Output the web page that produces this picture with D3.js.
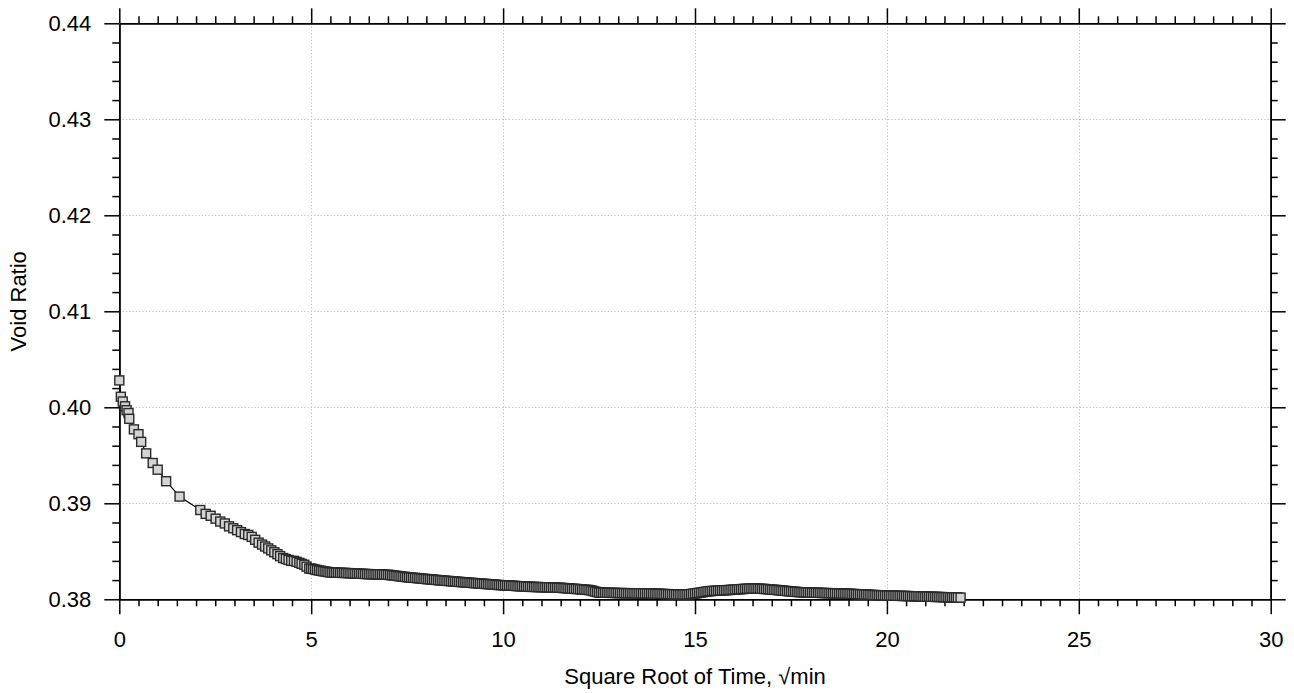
<!DOCTYPE html>
<html><head><meta charset="utf-8">
<script src="https://cdn.jsdelivr.net/npm/d3@7"></script>
<style>
html,body{margin:0;padding:0;background:#fff;}
svg text{font-family:"Liberation Sans",Arial,Helvetica,sans-serif;fill:#000;}
</style></head>
<body><svg id="c" width="1294" height="693"></svg>
<script>
// ---- data ----
const xTicks = [0, 5, 10, 15, 20, 25, 30];
const yTicks = [0.38, 0.39, 0.40, 0.41, 0.42, 0.43, 0.44];
const xTitle = "Square Root of Time, \u221Amin";
const yTitle = "Void Ratio";

const sqrtTimeEarly = [0, 0.04, 0.09, 0.15, 0.19, 0.24, 0.26, 0.38, 0.50, 0.57, 0.70, 0.87, 1.00, 1.22, 1.57];
const voidEarly = [0.4028, 0.4011, 0.4006, 0.4001, 0.3997, 0.3994, 0.3988, 0.3977, 0.3972, 0.3964, 0.3952, 0.3942, 0.3935, 0.3923, 0.3907];

const sqrtTimeMid = [2.11, 2.25, 2.38, 2.51, 2.63, 2.75, 2.86, 2.97, 3.07, 3.17, 3.27, 3.36, 3.45, 3.54, 3.63, 3.72, 3.80, 3.88, 3.96, 4.04, 4.12, 4.19, 4.27, 4.34, 4.41, 4.48, 4.55, 4.62, 4.69, 4.75, 4.82, 4.88, 4.95];
const voidMid = [0.3893, 0.3889, 0.3887, 0.3884, 0.3881, 0.3879, 0.3876, 0.3874, 0.3872, 0.3870, 0.3868, 0.3867, 0.3865, 0.3862, 0.3859, 0.3857, 0.3855, 0.3853, 0.3851, 0.3849, 0.3847, 0.3845, 0.3843, 0.3842, 0.3841, 0.3840, 0.3840, 0.3839, 0.3838, 0.3837, 0.3836, 0.3834, 0.3832];

const sqrtTimeA = [5.00,5.05,5.10,5.15,5.20,5.25,5.30,5.35,5.40,5.45,5.50,5.55,5.60,5.65,5.70,5.75,5.80,5.85,5.90,5.95,6.00,6.05,6.10,6.15,6.20,6.25,6.30,6.35,6.40,6.45,6.50,6.55,6.60,6.65,6.70,6.75,6.80,6.85,6.90,6.95,7.00,7.05,7.10,7.15,7.20,7.25,7.30,7.35,7.40,7.45,7.50,7.55,7.60,7.65,7.70,7.75,7.80,7.85,7.90,7.95,8.00,8.05,8.10,8.15,8.20,8.25,8.30,8.35,8.40,8.45,8.50,8.55,8.60,8.65,8.70,8.75,8.80,8.85,8.90,8.95,9.00,9.05,9.10,9.15,9.20,9.25,9.30,9.35,9.40,9.45,9.50,9.55,9.60,9.65,9.70,9.75,9.80,9.85,9.90,9.95];
const voidA = [0.38320,0.38315,0.38310,0.38305,0.38300,0.38297,0.38293,0.38290,0.38287,0.38283,0.38280,0.38279,0.38278,0.38278,0.38277,0.38276,0.38275,0.38275,0.38274,0.38273,0.38272,0.38271,0.38270,0.38269,0.38268,0.38267,0.38266,0.38265,0.38264,0.38263,0.38262,0.38262,0.38261,0.38261,0.38260,0.38259,0.38259,0.38258,0.38257,0.38256,0.38255,0.38253,0.38250,0.38248,0.38245,0.38243,0.38240,0.38238,0.38235,0.38233,0.38230,0.38228,0.38226,0.38224,0.38223,0.38221,0.38219,0.38217,0.38215,0.38213,0.38211,0.38209,0.38208,0.38206,0.38204,0.38202,0.38200,0.38198,0.38197,0.38195,0.38193,0.38191,0.38190,0.38188,0.38186,0.38185,0.38183,0.38181,0.38180,0.38178,0.38177,0.38175,0.38173,0.38172,0.38170,0.38169,0.38167,0.38166,0.38164,0.38163,0.38161,0.38160,0.38158,0.38157,0.38155,0.38154,0.38152,0.38150,0.38149,0.38147];

const sqrtTimeB = [10.00,10.05,10.10,10.15,10.20,10.25,10.30,10.35,10.40,10.45,10.50,10.55,10.60,10.65,10.70,10.75,10.80,10.85,10.90,10.95,11.00,11.05,11.10,11.15,11.20,11.25,11.30,11.35,11.40,11.45,11.50,11.55,11.60,11.65,11.70,11.75,11.80,11.85,11.90,11.95,12.00,12.05,12.10,12.15,12.20,12.25,12.30,12.35,12.40,12.45,12.50,12.55,12.60,12.65,12.70,12.75,12.80,12.85,12.90,12.95,13.00,13.05,13.10,13.15,13.20,13.25,13.30,13.35,13.40,13.45,13.50,13.55,13.60,13.65,13.70,13.75,13.80,13.85,13.90,13.95,14.00,14.05,14.10,14.15,14.20,14.25,14.30,14.35,14.40,14.45,14.50,14.55,14.60,14.65,14.70,14.75,14.80,14.85,14.90,14.95];
const voidB = [0.38146,0.38145,0.38144,0.38143,0.38142,0.38141,0.38140,0.38138,0.38137,0.38136,0.38135,0.38134,0.38132,0.38131,0.38130,0.38129,0.38129,0.38128,0.38128,0.38127,0.38126,0.38126,0.38125,0.38124,0.38124,0.38123,0.38122,0.38122,0.38121,0.38120,0.38120,0.38118,0.38117,0.38115,0.38114,0.38112,0.38111,0.38109,0.38108,0.38106,0.38105,0.38103,0.38101,0.38099,0.38098,0.38096,0.38092,0.38086,0.38080,0.38075,0.38070,0.38070,0.38069,0.38069,0.38068,0.38068,0.38067,0.38067,0.38066,0.38066,0.38065,0.38065,0.38065,0.38064,0.38064,0.38064,0.38064,0.38063,0.38063,0.38063,0.38063,0.38062,0.38062,0.38062,0.38061,0.38061,0.38060,0.38060,0.38059,0.38059,0.38058,0.38057,0.38057,0.38056,0.38055,0.38054,0.38054,0.38053,0.38052,0.38051,0.38050,0.38050,0.38050,0.38050,0.38050,0.38050,0.38050,0.38052,0.38055,0.38058];

const sqrtTimeC = [15.00,15.05,15.10,15.15,15.20,15.25,15.30,15.35,15.40,15.45,15.50,15.55,15.60,15.65,15.70,15.75,15.80,15.85,15.90,15.95,16.00,16.05,16.10,16.15,16.20,16.25,16.30,16.35,16.40,16.45,16.50,16.55,16.60,16.65,16.70,16.75,16.80,16.85,16.90,16.95,17.00,17.05,17.10,17.15,17.20,17.25,17.30,17.35,17.40,17.45,17.50,17.55,17.60,17.65,17.70,17.75,17.80,17.85,17.90,17.95,18.00,18.05,18.10,18.15,18.20,18.25,18.30,18.35,18.40,18.45,18.50,18.55,18.60,18.65,18.70,18.75,18.80,18.85,18.90,18.95];
const voidC = [0.38061,0.38064,0.38067,0.38070,0.38074,0.38077,0.38080,0.38083,0.38085,0.38087,0.38088,0.38089,0.38091,0.38092,0.38093,0.38094,0.38095,0.38096,0.38097,0.38099,0.38100,0.38101,0.38103,0.38104,0.38106,0.38107,0.38109,0.38110,0.38111,0.38112,0.38112,0.38112,0.38111,0.38111,0.38110,0.38109,0.38108,0.38106,0.38105,0.38103,0.38101,0.38099,0.38098,0.38096,0.38094,0.38092,0.38090,0.38088,0.38086,0.38084,0.38082,0.38080,0.38078,0.38077,0.38075,0.38074,0.38073,0.38072,0.38072,0.38071,0.38070,0.38069,0.38069,0.38068,0.38068,0.38067,0.38066,0.38066,0.38065,0.38065,0.38064,0.38063,0.38063,0.38062,0.38061,0.38061,0.38060,0.38059,0.38059,0.38058];

const sqrtTimeD = [19.00,19.05,19.10,19.15,19.20,19.25,19.30,19.35,19.40,19.45,19.50,19.55,19.60,19.65,19.70,19.75,19.80,19.85,19.90,19.95,20.00,20.05,20.10,20.15,20.20,20.25,20.30,20.35,20.40,20.45,20.50,20.55,20.60,20.65,20.70,20.75,20.80,20.85,20.90,20.95,21.00,21.05,21.10,21.15,21.20,21.25,21.30,21.35,21.40,21.45,21.50,21.55,21.60,21.65,21.70,21.75,21.80,21.85,21.92];
const voidD = [0.38058,0.38057,0.38056,0.38055,0.38054,0.38053,0.38052,0.38051,0.38050,0.38049,0.38048,0.38047,0.38046,0.38045,0.38044,0.38043,0.38042,0.38042,0.38041,0.38040,0.38039,0.38039,0.38038,0.38038,0.38037,0.38037,0.38036,0.38036,0.38035,0.38035,0.38034,0.38034,0.38033,0.38032,0.38032,0.38031,0.38031,0.38030,0.38030,0.38029,0.38028,0.38028,0.38027,0.38026,0.38026,0.38025,0.38025,0.38024,0.38023,0.38023,0.38022,0.38022,0.38021,0.38021,0.38020,0.38020,0.38019,0.38019,0.38018];

// ---- build ----
const sqrtTime = [].concat(sqrtTimeEarly, sqrtTimeMid, sqrtTimeA, sqrtTimeB, sqrtTimeC, sqrtTimeD);
const voidRatio = [].concat(voidEarly, voidMid, voidA, voidB, voidC, voidD);
const data = sqrtTime.map((s, i) => ({s: s, e: voidRatio[i]}));

const L = 119.3, R = 1270.7, T = 23.3, B = 599.3;
const x = d3.scaleLinear().domain([0, 30]).range([L, R]);
const y = d3.scaleLinear().domain([0.38, 0.44]).range([B, T]);

const svg = d3.select("#c");

// grid
const grid = svg.append("g").attr("stroke", "#c4c4c4").attr("stroke-width", 1).attr("stroke-dasharray", "1.3,2");
grid.selectAll("line.v").data(xTicks.slice(1, -1)).join("line")
  .attr("x1", d => Math.round(x(d)) + 0.5).attr("x2", d => Math.round(x(d)) + 0.5)
  .attr("y1", T).attr("y2", B);
grid.selectAll("line.h").data(yTicks.slice(1, -1)).join("line")
  .attr("y1", d => Math.round(y(d)) + 0.5).attr("y2", d => Math.round(y(d)) + 0.5)
  .attr("x1", L).attr("x2", R);

// minor tick values
const xMinor = d3.range(0, 30.001, 0.5).filter(v => Math.abs(v / 5 - Math.round(v / 5)) > 1e-6);
const yMinor = d3.range(0.38, 0.44001, 0.002).filter(v => Math.abs(v / 0.01 - Math.round(v / 0.01)) > 1e-6);

function styleAxis(g) {
  g.select(".domain").attr("stroke", "#000").attr("stroke-width", 1.6);
  g.selectAll(".tick line").attr("stroke", "#000").attr("stroke-width", 1.5);
}

const fmtY = d3.format(".2f");
// bottom
svg.append("g").attr("transform", `translate(0,${B})`)
  .call(d3.axisBottom(x).tickValues(xMinor).tickSize(7).tickSizeOuter(0).tickFormat(""))
  .call(styleAxis);
const gxb = svg.append("g").attr("transform", `translate(0,${B})`)
  .call(d3.axisBottom(x).tickValues(xTicks).tickSize(15).tickSizeOuter(0).tickPadding(17).tickFormat(d3.format("d")))
  .call(styleAxis);
gxb.selectAll("text").attr("font-size", 22).attr("font-family", "Liberation Sans, Arial, sans-serif");
// top
svg.append("g").attr("transform", `translate(0,${T})`)
  .call(d3.axisTop(x).tickValues(xMinor).tickSize(7).tickSizeOuter(0).tickFormat(""))
  .call(styleAxis);
svg.append("g").attr("transform", `translate(0,${T})`)
  .call(d3.axisTop(x).tickValues(xTicks).tickSize(15).tickSizeOuter(0).tickFormat(""))
  .call(styleAxis);
// left
svg.append("g").attr("transform", `translate(${L},0)`)
  .call(d3.axisLeft(y).tickValues(yMinor).tickSize(7).tickSizeOuter(0).tickFormat(""))
  .call(styleAxis);
const gyl = svg.append("g").attr("transform", `translate(${L},0)`)
  .call(d3.axisLeft(y).tickValues(yTicks).tickSize(15).tickSizeOuter(0).tickPadding(13).tickFormat(fmtY))
  .call(styleAxis);
gyl.selectAll("text").attr("font-size", 22).attr("font-family", "Liberation Sans, Arial, sans-serif");
// right
svg.append("g").attr("transform", `translate(${R},0)`)
  .call(d3.axisRight(y).tickValues(yMinor).tickSize(7).tickSizeOuter(0).tickFormat(""))
  .call(styleAxis);
svg.append("g").attr("transform", `translate(${R},0)`)
  .call(d3.axisRight(y).tickValues(yTicks).tickSize(15).tickSizeOuter(0).tickFormat(""))
  .call(styleAxis);

// line
const line = d3.line().x(d => x(d.s)).y(d => y(d.e));
svg.append("path").datum(data).attr("d", line)
  .attr("fill", "none").attr("stroke", "#000").attr("stroke-width", 1.2);

// markers
const ms = 9;
svg.append("g").selectAll("rect").data(data).join("rect")
  .attr("x", d => x(d.s) - ms / 2).attr("y", d => y(d.e) - ms / 2)
  .attr("width", ms).attr("height", ms)
  .attr("fill", "#d4d4d4").attr("stroke", "#2a2a2a").attr("stroke-width", 1.4);

// titles
svg.append("text").attr("x", (L + R) / 2).attr("y", 684).attr("text-anchor", "middle")
  .attr("font-size", 22).text(xTitle);
svg.append("text").attr("transform", `translate(26,${(T + B) / 2 - 10}) rotate(-90)`)
  .attr("text-anchor", "middle").attr("font-size", 22).text(yTitle);
</script>
</body></html>
